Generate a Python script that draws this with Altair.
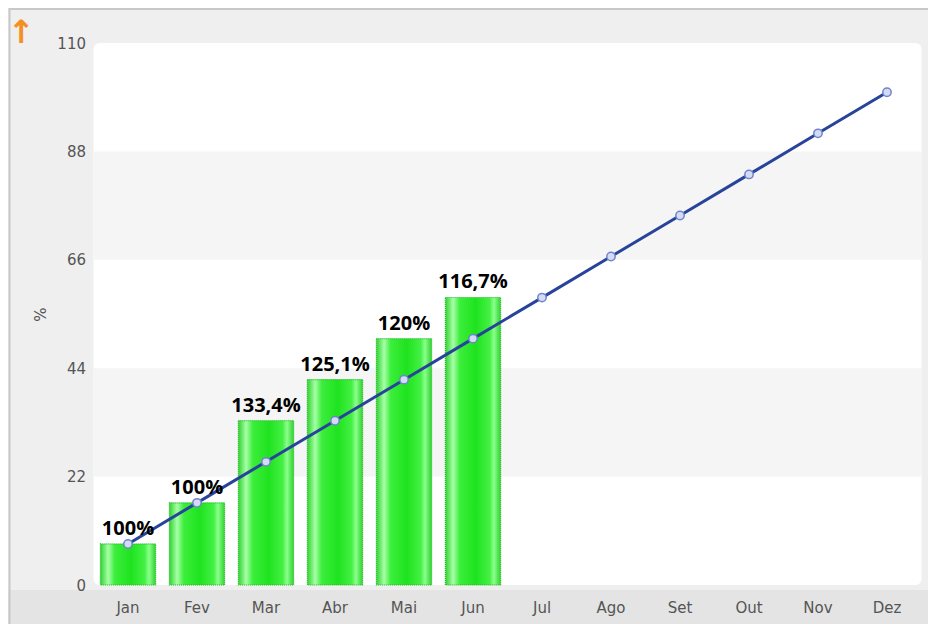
import altair as alt
import pandas as pd

months = ["Jan", "Fev", "Mar", "Abr", "Mai", "Jun", "Jul", "Ago", "Set", "Out", "Nov", "Dez"]
realizado = [8.33, 16.67, 33.35, 41.7, 50.0, 58.35]
realizado_labels = ["100%", "100%", "133,4%", "125,1%", "120%", "116,7%"]
meta = [8.33, 16.67, 25.0, 33.33, 41.67, 50.0, 58.33, 66.67, 75.0, 83.33, 91.67, 100.0]
y_ticks = [0, 22, 44, 66, 88, 110]
band_lo = [66, 22]
band_hi = [88, 44]

bars_df = pd.DataFrame({"mes": months[:len(realizado)], "valor": realizado, "rotulo": realizado_labels})
line_df = pd.DataFrame({"mes": months, "meta": meta})
bands_df = pd.DataFrame({"lo": band_lo, "hi": band_hi})

x_enc = alt.X("mes:N", sort=months, scale=alt.Scale(domain=months, paddingInner=0.2, paddingOuter=0.1),
              axis=alt.Axis(title=None, labelAngle=0, labelColor="#555555", labelFont="DejaVu Sans",
                            labelFontSize=15, labelPadding=15, ticks=False, domain=False, zindex=2))
y_scale = alt.Scale(domain=[0, 110], nice=False, zero=True)
y_axis = alt.Axis(values=y_ticks, title="%", titleColor="#555555", titleFont="DejaVu Sans",
                  titleFontSize=15, titleFontWeight="normal", titlePadding=8, grid=False,
                  ticks=False, domain=False, labelColor="#555555", labelFont="DejaVu Sans",
                  labelFontSize=15, labelPadding=8, zindex=2)

bands = alt.Chart(bands_df).mark_rect(color="#f5f5f5").encode(
    y=alt.Y("hi:Q", scale=y_scale, axis=y_axis),
    y2="lo:Q",
)

bottom_strip = alt.Chart(bands_df.head(1)).mark_rect(color="#e4e4e4", clip=False).encode(
    x=alt.value(-86), x2=alt.value(860), y=alt.value(547), y2=alt.value(600)
)

frame = alt.Chart(bands_df.head(1)).mark_rect(
    fill=None, stroke="#c8c8c8", strokeWidth=2, clip=False
).encode(x=alt.value(-84), x2=alt.value(880), y=alt.value(-34), y2=alt.value(640))

arrow = alt.Chart(bands_df.head(1)).mark_text(
    text="↑", color="#f39020", fontSize=32, fontWeight="bold", font="DejaVu Sans", clip=False
).encode(x=alt.value(-72), y=alt.value(-10))

green_grad = alt.Gradient(
    gradient="linear", x1=0, x2=1, y1=0, y2=0,
    stops=[
        alt.GradientStop(color="#2fd42f", offset=0),
        alt.GradientStop(color="#a8ffa8", offset=0.14),
        alt.GradientStop(color="#3cee3c", offset=0.26),
        alt.GradientStop(color="#1fe31f", offset=0.55),
        alt.GradientStop(color="#44f044", offset=0.8),
        alt.GradientStop(color="#8cff8c", offset=0.88),
        alt.GradientStop(color="#2ed42e", offset=1),
    ],
)

bars = alt.Chart(bars_df).mark_bar(
    color=green_grad, stroke="#22b822", strokeWidth=1.2, strokeDash=[1, 1]
).encode(
    x=x_enc,
    y=alt.Y("valor:Q", scale=y_scale),
)

bar_text = alt.Chart(bars_df).mark_text(
    baseline="bottom", dy=-5, fontSize=20, fontWeight="bold", font="Open Sans", color="#000000"
).encode(
    x=alt.X("mes:N", sort=months),
    y=alt.Y("valor:Q", scale=y_scale),
    text="rotulo:N",
)

line = alt.Chart(line_df).mark_line(color="#27449a", strokeWidth=3).encode(
    x=alt.X("mes:N", sort=months),
    y=alt.Y("meta:Q", scale=y_scale),
)

points = alt.Chart(line_df).mark_point(
    shape="circle", filled=True, fill="#d4dbf5", stroke="#7085cc", strokeWidth=1.5, size=70, opacity=1
).encode(
    x=alt.X("mes:N", sort=months),
    y=alt.Y("meta:Q", scale=y_scale),
)

chart = alt.layer(bands, bottom_strip, frame, bars, line, points, bar_text, arrow).properties(
    width=828, height=542,
    autosize=alt.AutoSizeParams(type="none"),
    padding={"left": 85.5, "top": 35, "right": 6, "bottom": 39},
    background="#efefef",
).configure_view(
    stroke=None, fill="white", cornerRadius=6
)

chart.save("out.html", embed_options={"renderer": "svg", "actions": False})
